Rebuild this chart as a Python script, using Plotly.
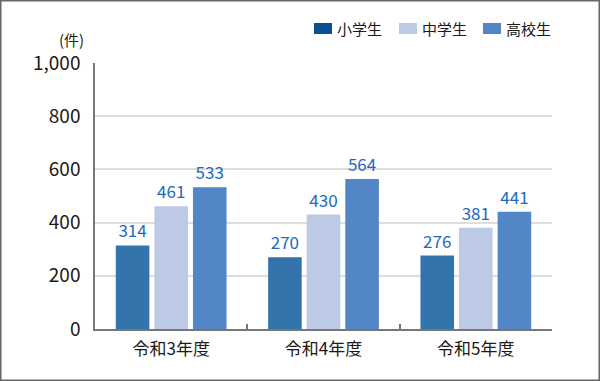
import plotly.graph_objects as go

categories = ["令和3年度", "令和4年度", "令和5年度"]
series_names = ["小学生", "中学生", "高校生"]
elementary = [314, 270, 276]
junior_high = [461, 430, 381]
high_school = [533, 564, 441]
y_ticks = [0, 200, 400, 600, 800, 1000]
y_tick_labels = ["0", "200", "400", "600", "800", "1,000"]

bar_colors = ["#3474ac", "#bccae6", "#5286c6"]
legend_colors = ["#0a4f96", "#bccae6", "#5286c6"]
values = [elementary, junior_high, high_school]

FONT = "Noto Sans CJK JP"
TEXT = "#231815"

L, R, T, B = 95, 48, 63, 52
W, H = 600, 381
pw, ph = W - L - R, H - T - B


def px_x(px):
    return (px - L) / pw


def px_y(py):
    return (H - B - py) / ph


fig = go.Figure()
for name, vals, col in zip(series_names, values, bar_colors):
    fig.add_trace(go.Bar(
        x=categories, y=vals, name=name, marker=dict(color=col, line=dict(width=0)),
        text=[str(v) for v in vals], textposition="outside", cliponaxis=False,
        textfont=dict(family=FONT, size=17, color="#1a6bbf"),
        showlegend=False,
    ))

# manual legend (swatch + label), laid out from the right edge
shapes = []
annotations = []
legend_left = [314, 399, 483]
for name, col, x0 in zip(series_names, legend_colors, legend_left):
    shapes.append(dict(type="rect", xref="paper", yref="paper",
                       x0=px_x(x0), x1=px_x(x0 + 18), y0=px_y(34), y1=px_y(23),
                       line=dict(width=0), fillcolor=col))
    annotations.append(dict(text=name, xref="paper", yref="paper", x=px_x(x0 + 21), y=px_y(29),
                            xanchor="left", yanchor="middle", showarrow=False,
                            font=dict(family=FONT, size=15, color=TEXT)))

annotations.append(dict(text="(件)", xref="paper", yref="paper", x=px_x(86), y=px_y(39),
                        xanchor="right", yanchor="middle", showarrow=False,
                        font=dict(family=FONT, size=15, color=TEXT)))

shapes.append(dict(type="rect", xref="paper", yref="paper",
                   x0=px_x(0.75), x1=px_x(W - 0.75), y0=px_y(H - 0.75), y1=px_y(0.75),
                   line=dict(color="#666666", width=1.5), fillcolor="rgba(0,0,0,0)", layer="above"))

fig.update_layout(
    width=W, height=H,
    margin=dict(l=L, r=R, t=T, b=B),
    paper_bgcolor="white", plot_bgcolor="white",
    barmode="group", bargap=0.24, bargroupgap=0.13,
    font=dict(family=FONT, color=TEXT),
    showlegend=False,
    xaxis=dict(type="category", showline=True, linecolor="#777777", linewidth=2,
               tickson="boundaries", ticks="inside", ticklen=5, tickcolor="#777777", tickwidth=1.5,
               ticklabelstandoff=4,
               tickfont=dict(family=FONT, size=17, color=TEXT), showgrid=False),
    yaxis=dict(range=[0, 1000], tickvals=y_ticks, ticktext=y_tick_labels,
               showline=True, linecolor="#777777", linewidth=1.5,
               showgrid=True, gridcolor="#dddddd", gridwidth=1.5, zeroline=False,
               ticks="", ticklabelstandoff=9,
               tickfont=dict(family=FONT, size=19, color=TEXT)),
    annotations=annotations,
    shapes=shapes,
)

fig.write_html("out.html", config={"displayModeBar": False},
               post_script="document.body.style.margin='0';document.body.style.overflow='hidden';")
